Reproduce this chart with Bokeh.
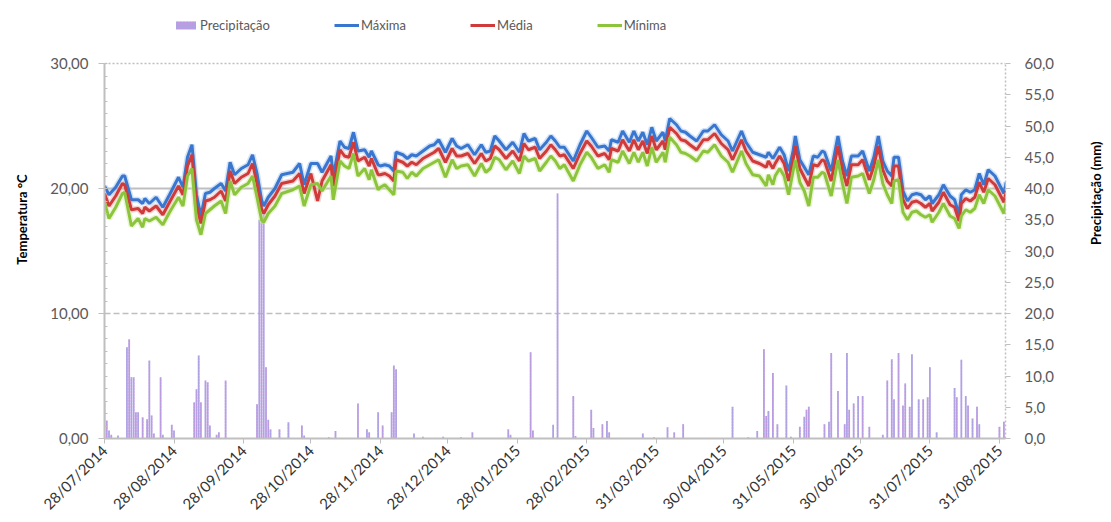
import math
import pandas as pd
from bokeh.plotting import figure
from bokeh.layouts import row
from bokeh.core.properties import value
from bokeh.models import (Range1d, LinearAxis, FixedTicker, CustomJSTickFormatter,
                          DatetimeTickFormatter, Legend, LegendItem, Grid)
from bokeh.embed import file_html
from bokeh.resources import INLINE

start_date = "2014-07-28"

day = [0, 2, 5, 8, 9, 12, 15, 17, 18, 20,
       23, 26, 29, 33, 35, 37, 39, 41, 43, 45,
       47, 49, 52, 54, 56, 58, 61, 64, 66, 68,
       70, 71, 73, 76, 79, 84, 87, 89, 92, 95,
       97, 101, 102, 105, 107, 109, 111, 113, 116, 118,
       119, 122, 123, 125, 127, 129, 130, 133, 135, 137,
       139, 142, 145, 147, 149, 152, 155, 157, 159, 162,
       165, 168, 170, 172, 174, 176, 179, 182, 185, 187,
       189, 192, 194, 197, 199, 201, 203, 205, 209, 212,
       215, 217, 220, 223, 225, 226, 229, 231, 234, 236,
       238, 240, 242, 244, 246, 249, 250, 252, 255, 257,
       259, 261, 264, 267, 269, 272, 275, 278, 280, 284,
       286, 289, 292, 295, 296, 298, 299, 301, 303, 305,
       307, 308, 310, 312, 314, 316, 318, 320, 321, 324,
       327, 329, 331, 333, 336, 338, 341, 343, 345, 347,
       349, 351, 352, 354, 356, 358, 360, 362, 364, 366,
       368, 369, 372, 374, 377, 379, 381, 382, 384, 386,
       388, 390, 392, 394, 397, 399, 401, 402]

t_max = [20.2, 19.5, 20.1, 21.0, 21.0, 19.1, 19.1, 18.8, 19.2, 18.8,
         19.3, 18.5, 19.5, 20.9, 20.1, 22.5, 23.5, 19.5, 17.8, 19.6,
         19.7, 20.0, 20.4, 19.8, 22.1, 21.1, 21.6, 21.9, 22.7, 21.2,
         19.1, 18.6, 19.3, 20.0, 21.1, 21.3, 22.0, 20.3, 22.0, 22.0,
         21.3, 22.6, 21.0, 23.8, 23.3, 23.2, 24.5, 23.0, 23.1, 22.5,
         23.0, 21.9, 21.8, 21.9, 21.8, 21.4, 22.9, 22.7, 22.4, 22.7,
         22.6, 23.0, 23.4, 23.5, 23.9, 22.9, 24.0, 23.4, 23.2, 23.5,
         22.7, 23.5, 22.9, 23.0, 24.2, 23.8, 23.1, 23.7, 22.9, 24.4,
         23.8, 24.0, 23.1, 23.7, 24.2, 23.8, 23.3, 23.3, 22.2, 23.5,
         24.6, 24.1, 23.3, 23.4, 23.0, 23.9, 23.7, 24.6, 23.7, 24.6,
         23.8, 24.5, 23.5, 24.9, 23.8, 24.5, 23.8, 25.6, 25.1, 24.6,
         24.5, 24.2, 23.8, 24.6, 24.6, 25.1, 24.3, 23.8, 23.0, 24.6,
         23.7, 22.9, 22.7, 22.5, 22.9, 22.4, 22.7, 23.3, 22.7, 21.4,
         23.0, 24.2, 22.3, 21.7, 21.1, 22.6, 22.5, 23.0, 22.9, 21.4,
         24.2, 22.2, 21.0, 22.6, 22.6, 23.0, 21.4, 22.5, 24.2, 22.2,
         21.4, 21.0, 22.5, 22.5, 19.8, 19.0, 19.5, 19.6, 19.5, 19.1,
         19.4, 18.8, 19.5, 20.3, 19.4, 19.1, 17.9, 19.5, 19.9, 19.7,
         19.9, 21.2, 20.3, 21.5, 21.0, 20.3, 19.6, 20.5]

t_mean = [19.6, 18.6, 19.4, 20.4, 20.3, 18.3, 18.4, 18.0, 18.5, 18.2,
          18.6, 17.9, 18.9, 20.2, 19.5, 21.8, 22.7, 18.7, 17.2, 19.0,
          19.1, 19.3, 19.8, 19.0, 21.4, 20.4, 20.9, 21.2, 22.0, 20.4,
          18.4, 18.0, 18.7, 19.4, 20.4, 20.6, 21.2, 19.6, 21.2, 19.0,
          20.6, 21.9, 20.2, 23.1, 22.6, 22.5, 23.7, 22.2, 22.5, 21.8,
          22.4, 21.1, 21.1, 21.2, 21.0, 20.6, 22.3, 22.1, 21.8, 22.1,
          21.9, 22.4, 22.7, 22.9, 23.2, 22.1, 23.2, 22.6, 22.6, 22.8,
          22.0, 22.8, 22.2, 22.4, 23.4, 23.1, 22.4, 23.0, 22.2, 23.6,
          23.1, 23.3, 22.4, 23.0, 23.5, 23.1, 22.6, 22.7, 21.6, 22.8,
          23.8, 23.4, 22.6, 22.8, 22.3, 23.2, 23.0, 23.9, 23.0, 23.9,
          23.1, 23.8, 22.8, 24.2, 23.1, 23.8, 23.1, 24.9, 24.4, 23.9,
          23.8, 23.5, 23.1, 23.9, 23.9, 24.4, 23.6, 23.1, 22.3, 23.9,
          23.0, 22.2, 22.0, 21.7, 22.2, 21.6, 22.0, 22.6, 22.0, 20.6,
          22.3, 23.4, 21.6, 20.9, 20.2, 21.9, 21.8, 22.3, 22.2, 20.6,
          23.4, 21.5, 20.2, 21.9, 21.9, 22.3, 20.7, 21.8, 23.4, 21.5,
          20.6, 20.2, 21.8, 21.8, 19.1, 18.4, 18.9, 19.0, 18.8, 18.5,
          18.8, 18.2, 18.9, 19.7, 18.7, 18.5, 17.4, 18.8, 19.2, 19.0,
          19.3, 20.5, 19.7, 20.8, 20.3, 19.6, 18.9, 19.8]

t_min = [18.9, 17.6, 18.5, 19.6, 19.7, 17.0, 17.6, 16.9, 17.6, 17.4,
         17.7, 17.1, 18.1, 19.3, 18.6, 21.0, 21.6, 17.5, 16.3, 18.0,
         18.3, 18.6, 19.0, 18.0, 20.6, 19.5, 20.1, 20.4, 21.0, 19.3,
         17.5, 17.3, 18.0, 18.6, 19.6, 19.9, 20.2, 18.6, 20.3, 20.4,
         19.8, 21.0, 19.1, 22.2, 21.8, 21.6, 22.8, 21.0, 21.6, 20.7,
         21.5, 19.9, 20.1, 20.3, 19.9, 19.5, 21.4, 21.3, 20.8, 21.3,
         21.0, 21.6, 21.9, 22.1, 22.3, 20.9, 22.3, 21.6, 21.8, 21.9,
         21.0, 22.0, 21.3, 21.6, 22.5, 22.3, 21.5, 22.2, 21.2, 22.6,
         22.2, 22.4, 21.4, 22.1, 22.6, 22.2, 21.6, 21.9, 20.6, 21.9,
         22.9, 22.5, 21.6, 21.9, 21.3, 22.3, 22.1, 23.0, 22.0, 22.9,
         22.1, 22.9, 21.8, 23.3, 22.1, 22.9, 22.1, 24.1, 23.5, 22.9,
         22.8, 22.6, 22.2, 23.0, 22.9, 23.5, 22.6, 22.1, 21.3, 23.0,
         22.0, 21.1, 21.0, 20.2, 21.1, 20.3, 21.0, 21.6, 21.0, 19.5,
         21.4, 22.3, 20.5, 19.8, 18.6, 20.9, 20.9, 21.3, 21.2, 19.4,
         22.3, 20.4, 18.8, 20.9, 21.0, 21.2, 19.6, 20.7, 22.3, 20.4,
         19.5, 18.8, 20.6, 20.7, 18.1, 17.5, 18.1, 18.2, 17.9, 17.7,
         17.9, 17.3, 18.1, 18.8, 17.8, 17.6, 16.8, 17.8, 18.3, 18.1,
         18.4, 19.5, 18.8, 19.9, 19.4, 18.7, 18.0, 18.9]

rain_day = [0, 1, 2, 3, 6, 10, 11, 12, 13, 14,
            15, 17, 19, 20, 21, 22, 25, 26, 30, 31,
            40, 41, 42, 43, 45, 46, 47, 50, 51, 54,
            68, 69, 70, 71, 72, 73, 74, 78, 82, 88,
            89, 100, 103, 113, 117, 118, 122, 124, 128, 129,
            130, 138, 142, 151, 159, 164, 180, 181, 190, 191,
            200, 202, 209, 210, 217, 218, 222, 224, 225, 240,
            245, 251, 254, 258, 280, 287, 291, 294, 295, 296,
            298, 300, 304, 306, 310, 312, 313, 314, 321, 323,
            324, 327, 330, 331, 332, 334, 336, 338, 341, 347,
            349, 351, 352, 354, 356, 357, 359, 360, 363, 365,
            367, 368, 371, 379, 380, 382, 384, 385, 387, 389,
            390, 399, 401]

rain_mm = [5.8, 2.9, 1.3, 0.6, 0.5, 14.6, 15.9, 9.8, 9.8, 4.2,
           4.2, 3.4, 3.1, 12.5, 3.7, 0.8, 9.8, 0.6, 2.2, 1.3,
           5.8, 7.9, 13.3, 5.8, 9.3, 9.0, 2.1, 0.6, 1.0, 9.3,
           5.5, 35.0, 37.0, 36.0, 11.4, 3.0, 1.5, 1.5, 2.6, 2.1,
           0.5, 0.2, 1.2, 5.6, 1.5, 1.0, 4.2, 2.1, 4.2, 11.7,
           11.1, 0.8, 0.3, 0.3, 0.2, 1.0, 1.5, 0.6, 13.8, 1.3,
           2.2, 39.2, 6.8, 0.4, 4.6, 1.7, 2.3, 2.8, 1.0, 0.8,
           0.2, 1.8, 1.0, 2.3, 5.1, 0.2, 1.2, 14.3, 3.6, 4.4,
           10.5, 2.3, 8.5, 0.3, 1.9, 3.5, 4.6, 5.1, 2.3, 2.7,
           13.7, 7.6, 2.3, 13.7, 4.6, 5.6, 6.8, 6.8, 1.9, 0.6,
           9.3, 12.7, 6.3, 13.7, 5.3, 8.8, 5.1, 13.5, 6.3, 6.3,
           6.6, 11.4, 1.0, 8.1, 6.6, 12.6, 6.8, 5.3, 3.2, 5.1,
           2.3, 1.9, 2.7]

tick_dates = ["2014-07-28", "2014-08-28", "2014-09-28", "2014-10-28", "2014-11-28",
              "2014-12-28", "2015-01-28", "2015-02-28", "2015-03-31", "2015-04-30",
              "2015-05-31", "2015-06-30", "2015-07-31", "2015-08-31"]
temp_ticks = [0, 10, 20, 30]
rain_ticks = [0, 5, 10, 15, 20, 25, 30, 35, 40, 45, 50, 55, 60]
rain_title = "Precipitação (mm)"

t0 = pd.Timestamp(start_date)
dates = t0 + pd.to_timedelta(day, unit="D")
rdates = t0 + pd.to_timedelta(rain_day, unit="D")
tick_ms = [pd.Timestamp(d).value / 1e6 for d in tick_dates]
DAY_MS = 86400000.0

FONT = "Lato"
GRID = "#BFBFBF"

# The frame reaches to the top of the canvas so that the legend can sit inside it;
# the axes are bounded to 0-30 / 0-60 (their visible extent in the reference).
TOP_PAD = 438.0 / 375.0
T_TOP = 30 * TOP_PAD
R_TOP = 60 * TOP_PAD

p = figure(width=1080, height=522, x_axis_type="datetime", output_backend="svg",
           toolbar_location=None,
           min_border_left=104, min_border_right=75, min_border_top=0, min_border_bottom=84,
           x_range=Range1d(t0, t0 + pd.Timedelta(days=401.7)), y_range=Range1d(0, T_TOP))
p.extra_y_ranges = {"rain": Range1d(0, R_TOP)}
p.outline_line_color = None
p.background_fill_color = "white"

# grids
p.xgrid.visible = False
p.ygrid.ticker = FixedTicker(ticks=[20])
p.ygrid.grid_line_color = GRID
p.ygrid.grid_line_width = 2
g10 = Grid(dimension=1, ticker=FixedTicker(ticks=[10]), grid_line_color=GRID,
           grid_line_width=1.5, grid_line_dash="6 3")
g30 = Grid(dimension=1, ticker=FixedTicker(ticks=[30]), grid_line_color=GRID,
           grid_line_width=1.5, grid_line_dash="2 2")
p.add_layout(g10)
p.add_layout(g30)

# precipitation bars
bars = p.vbar(x=rdates, top=rain_mm, width=0.8 * DAY_MS, y_range_name="rain",
              fill_color="#b0a3e4", line_color=None, hatch_pattern="dot",
              hatch_color="#d58bd8", hatch_scale=3, hatch_weight=1)

# halos
p.line(dates, t_max, line_color="#9cc0ee", line_width=6, line_alpha=0.45)
p.line(dates, t_mean, line_color="#eba0a0", line_width=6, line_alpha=0.45)
p.line(dates, t_min, line_color="#cfe7a0", line_width=6, line_alpha=0.45)
lmax = p.line(dates, t_max, line_color="#3876d0", line_width=3)
lmean = p.line(dates, t_mean, line_color="#cf3a3a", line_width=3)
lmin = p.line(dates, t_min, line_color="#8cc43c", line_width=3)

# x axis
xa = p.xaxis[0]
xa.ticker = FixedTicker(ticks=tick_ms)
fmt = "%d/%m/%Y"
xa.formatter = DatetimeTickFormatter(milliseconds=fmt, seconds=fmt, minsec=fmt, minutes=fmt,
                                     hourmin=fmt, hours=fmt, days=fmt, months=fmt, years=fmt)
xa.major_label_orientation = math.pi / 4
xa.major_label_text_font = FONT
xa.major_label_text_font_size = "15px"
xa.major_label_text_color = "#333333"
xa.major_label_standoff = 4
xa.axis_line_color = GRID
xa.axis_line_width = 2
xa.major_tick_line_color = GRID
xa.major_tick_out = 5
xa.major_tick_in = 0
xa.minor_tick_line_color = None

# left axis
ya = p.yaxis[0]
ya.bounds = (0, 30)
ya.ticker = FixedTicker(ticks=temp_ticks, minor_ticks=list(range(0, 31)))
ya.formatter = CustomJSTickFormatter(code="return tick.toFixed(2).replace('.', ',');")
ya.axis_line_color = GRID
ya.axis_line_width = 2
ya.major_tick_line_color = GRID
ya.major_tick_out = 6
ya.major_tick_in = 0
ya.minor_tick_line_color = GRID
ya.minor_tick_in = 3
ya.minor_tick_out = 0
ya.major_label_text_font = FONT
ya.major_label_text_font_size = "15px"
ya.major_label_text_color = "#595959"
ya.major_label_standoff = 10
ya.axis_label = "Temperatura °C"
ya.axis_label_text_font = FONT
ya.axis_label_text_font_style = "bold"
ya.axis_label_text_font_size = "13px"
ya.axis_label_text_color = "#000000"
ya.axis_label_standoff = 17

# right axis (its title is drawn in the narrow strip to the right, reading upwards)
ra = LinearAxis(y_range_name="rain", ticker=FixedTicker(ticks=rain_ticks), bounds=(0, 60),
                formatter=CustomJSTickFormatter(code="return tick.toFixed(1).replace('.', ',');"))
ra.axis_line_color = GRID
ra.axis_line_width = 1.5
ra.axis_line_dash = "2 2"
ra.major_tick_line_color = GRID
ra.major_tick_out = 5
ra.major_tick_in = 0
ra.minor_tick_line_color = None
ra.major_label_text_font = FONT
ra.major_label_text_font_size = "15px"
ra.major_label_text_color = "#595959"
ra.major_label_standoff = 14
p.add_layout(ra, "right")

legend = Legend(items=[LegendItem(label="Precipitação", renderers=[bars]),
                       LegendItem(label="Máxima", renderers=[lmax]),
                       LegendItem(label="Média", renderers=[lmean]),
                       LegendItem(label="Mínima", renderers=[lmin])],
                orientation="horizontal", location=(69, 405), spacing=64,
                glyph_width=25, glyph_height=10, label_standoff=2, padding=0, margin=0,
                label_text_font=FONT, label_text_font_size="13px",
                label_text_color="#595959", border_line_color=None,
                background_fill_alpha=0)
p.add_layout(legend)

# strip holding the right axis title
q = figure(width=31, height=522, output_backend="svg", toolbar_location=None,
           x_range=Range1d(0, 1), y_range=Range1d(0, 1), min_border=0,
           x_axis_location=None, y_axis_location=None)
q.outline_line_color = None
q.grid.visible = False
q.text(x=[0.5], y=[0.56], text=[rain_title], angle=math.pi / 2,
       text_align="center", text_baseline="middle", text_font=value(FONT),
       text_font_style="bold", text_font_size="13px", text_color="#000000")

layout = row(p, q)
open("out.html", "w").write(file_html(layout, INLINE))
